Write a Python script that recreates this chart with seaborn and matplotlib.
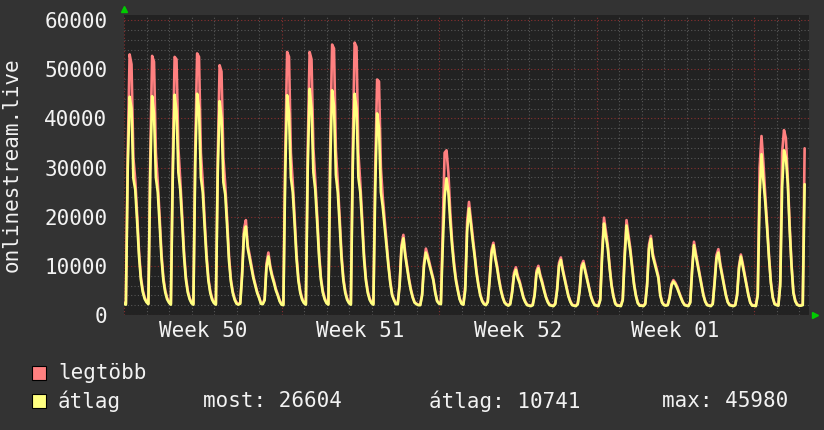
import pandas as pd
import matplotlib
matplotlib.use("Agg")
import matplotlib.pyplot as plt
import seaborn as sns
from matplotlib.patches import Rectangle
from matplotlib.transforms import blended_transform_factory

# 2-hour samples (0h, 2h, ... 22h) per day, in thousands.
# day 0 = Monday of week 50, last day is partial.
avg_k = [
    [2.3, 2.1, 30.0, 44.4, 42.0, 27.8, 25.5, 19.0, 12.0, 7.2, 4.7, 3.3],
    [2.6, 2.2, 29.0, 44.5, 41.0, 28.0, 25.0, 18.5, 11.5, 7.0, 4.6, 3.2],
    [2.5, 2.1, 28.0, 44.8, 41.5, 29.0, 25.5, 19.0, 12.0, 7.2, 4.6, 3.2],
    [2.4, 2.1, 31.0, 45.0, 42.0, 28.0, 25.0, 18.0, 11.5, 7.0, 4.5, 3.1],
    [2.4, 2.1, 29.0, 43.5, 40.0, 27.0, 24.5, 18.0, 11.0, 6.8, 4.5, 3.1],
    [2.3, 2.1, 2.3, 8.0, 16.5, 18.0, 13.5, 11.5, 9.5, 7.5, 6.0, 4.5],
    [3.5, 2.3, 2.2, 3.0, 9.8, 11.9, 9.5, 7.8, 6.5, 5.0, 4.0, 2.8],
    [2.1, 2.0, 29.0, 44.7, 41.0, 28.0, 25.0, 18.5, 11.5, 7.0, 4.5, 3.1],
    [2.4, 2.1, 30.0, 46.0, 42.0, 29.0, 25.5, 19.0, 12.0, 7.2, 4.6, 3.2],
    [2.4, 2.1, 31.0, 45.7, 42.5, 28.5, 25.0, 18.5, 11.5, 7.0, 4.5, 3.1],
    [2.4, 2.1, 30.0, 45.0, 42.0, 28.0, 25.0, 18.5, 11.5, 7.0, 4.5, 3.1],
    [2.4, 2.1, 26.0, 41.0, 38.0, 25.0, 22.0, 18.0, 14.0, 10.0, 6.5, 4.0],
    [3.0, 2.2, 2.2, 6.0, 13.5, 15.6, 12.0, 9.5, 7.0, 5.0, 3.5, 2.5],
    [2.2, 2.0, 2.0, 4.0, 10.0, 12.7, 11.5, 10.0, 8.5, 7.0, 4.5, 2.8],
    [2.3, 2.2, 14.0, 24.0, 27.8, 25.0, 19.0, 14.0, 10.0, 7.0, 5.0, 3.2],
    [2.3, 2.1, 5.0, 17.0, 21.7, 18.5, 15.0, 12.0, 8.5, 6.0, 4.0, 2.8],
    [2.2, 2.0, 2.6, 7.0, 12.5, 14.2, 11.5, 9.5, 7.0, 5.0, 3.5, 2.5],
    [2.1, 1.9, 2.2, 4.5, 8.0, 9.2, 7.5, 6.5, 5.0, 3.5, 2.6, 2.0],
    [1.9, 1.8, 2.0, 4.0, 8.5, 9.5, 7.8, 6.5, 5.0, 3.6, 2.6, 2.0],
    [1.9, 1.8, 2.2, 5.0, 10.0, 11.2, 9.0, 7.2, 5.5, 3.8, 2.7, 2.0],
    [1.9, 1.8, 2.2, 4.8, 9.5, 10.5, 8.8, 7.0, 5.4, 3.8, 2.7, 2.0],
    [1.9, 1.8, 3.0, 12.0, 18.6, 16.0, 13.6, 9.5, 6.0, 3.8, 2.3, 1.9],
    [1.9, 1.8, 3.0, 11.5, 18.2, 15.5, 13.0, 9.5, 6.2, 3.9, 2.4, 1.9],
    [1.9, 1.8, 2.2, 6.0, 13.5, 15.5, 12.0, 10.5, 9.0, 7.5, 4.0, 2.5],
    [2.0, 1.9, 2.0, 3.5, 6.0, 6.8, 6.3, 5.5, 4.5, 3.5, 2.6, 2.0],
    [1.9, 1.8, 2.5, 9.0, 14.2, 12.0, 10.0, 8.0, 6.0, 4.0, 2.7, 2.0],
    [1.9, 1.8, 2.2, 6.5, 11.5, 12.7, 10.0, 8.0, 6.0, 4.0, 2.6, 2.0],
    [1.9, 1.8, 2.0, 4.0, 9.5, 11.9, 10.0, 8.0, 6.0, 4.0, 2.5, 1.9],
    [1.9, 1.8, 4.0, 24.0, 32.7, 27.4, 23.0, 17.5, 11.5, 6.5, 3.5, 2.2],
    [2.0, 1.9, 6.0, 26.0, 33.5, 32.0, 26.8, 17.5, 10.0, 4.5, 2.8, 2.1],
    [1.9, 1.9, 2.0, 26.604],
]
max_k = [
    [2.5, 2.3, 33.0, 53.0, 51.0, 32.0, 27.5, 20.5, 13.0, 7.8, 5.1, 3.6],
    [2.8, 2.4, 32.0, 52.7, 51.5, 33.0, 27.0, 20.0, 12.5, 7.6, 5.0, 3.5],
    [2.7, 2.3, 31.0, 52.5, 52.0, 34.0, 27.5, 20.5, 13.0, 7.8, 5.0, 3.5],
    [2.6, 2.3, 34.0, 53.2, 52.5, 33.0, 27.0, 19.5, 12.5, 7.5, 4.9, 3.4],
    [2.6, 2.3, 32.0, 50.8, 49.5, 32.0, 26.5, 19.5, 12.0, 7.3, 4.8, 3.4],
    [2.5, 2.3, 2.5, 8.8, 17.5, 19.3, 14.2, 12.2, 10.0, 7.9, 6.3, 4.8],
    [3.7, 2.5, 2.3, 3.3, 10.5, 12.7, 10.0, 8.2, 6.9, 5.3, 4.2, 3.0],
    [2.3, 2.2, 33.0, 53.5, 52.5, 33.0, 27.0, 20.0, 12.5, 7.5, 4.9, 3.4],
    [2.6, 2.3, 34.0, 53.5, 52.0, 34.0, 27.5, 20.5, 13.0, 7.7, 5.0, 3.5],
    [2.6, 2.3, 35.0, 55.0, 54.2, 33.5, 27.0, 20.0, 12.5, 7.5, 4.9, 3.4],
    [2.6, 2.3, 34.0, 55.4, 54.5, 33.0, 27.0, 20.0, 12.5, 7.5, 4.9, 3.4],
    [2.6, 2.3, 30.0, 47.9, 47.5, 30.0, 24.0, 19.5, 15.0, 10.6, 6.9, 4.2],
    [3.2, 2.3, 2.3, 6.4, 14.2, 16.3, 12.6, 10.0, 7.4, 5.3, 3.7, 2.6],
    [2.3, 2.1, 2.1, 4.3, 10.6, 13.5, 12.1, 10.5, 8.9, 7.3, 4.7, 2.9],
    [2.5, 2.4, 18.0, 33.0, 33.5, 29.0, 21.0, 15.0, 10.8, 7.5, 5.3, 3.4],
    [2.4, 2.2, 6.0, 19.0, 23.0, 19.5, 15.8, 12.6, 9.0, 6.3, 4.2, 3.0],
    [2.3, 2.1, 2.8, 7.5, 13.2, 14.7, 12.0, 10.0, 7.4, 5.3, 3.7, 2.6],
    [2.2, 2.0, 2.4, 4.9, 8.6, 9.7, 8.0, 6.9, 5.3, 3.7, 2.8, 2.1],
    [2.0, 1.9, 2.2, 4.3, 9.0, 10.0, 8.2, 6.9, 5.3, 3.8, 2.8, 2.1],
    [2.0, 1.9, 2.4, 5.4, 10.6, 11.7, 9.4, 7.6, 5.8, 4.0, 2.9, 2.1],
    [2.0, 1.9, 2.4, 5.2, 10.1, 11.0, 9.2, 7.4, 5.7, 4.0, 2.9, 2.1],
    [2.0, 1.9, 3.3, 13.0, 19.8, 17.0, 14.3, 10.0, 6.3, 4.0, 2.5, 2.0],
    [2.0, 1.9, 3.3, 12.4, 19.3, 16.4, 13.7, 10.0, 6.5, 4.1, 2.6, 2.0],
    [2.0, 1.9, 2.4, 6.5, 14.3, 16.1, 12.6, 11.0, 9.5, 7.9, 4.2, 2.6],
    [2.1, 2.0, 2.1, 3.7, 6.3, 7.1, 6.6, 5.8, 4.7, 3.7, 2.7, 2.1],
    [2.0, 1.9, 2.7, 9.6, 14.9, 12.6, 10.5, 8.4, 6.3, 4.2, 2.8, 2.1],
    [2.0, 1.9, 2.4, 7.0, 12.2, 13.4, 10.5, 8.4, 6.3, 4.2, 2.7, 2.1],
    [2.0, 1.9, 2.1, 4.3, 10.0, 12.3, 10.5, 8.4, 6.3, 4.2, 2.6, 2.0],
    [2.0, 1.9, 4.5, 30.0, 36.4, 31.0, 24.5, 18.5, 12.0, 6.8, 3.7, 2.3],
    [2.2, 2.0, 7.0, 33.0, 37.6, 36.0, 28.0, 18.5, 10.5, 4.8, 3.0, 2.2],
    [2.0, 2.0, 2.2, 33.9],
]
week_labels = ["Week 50", "Week 51", "Week 52", "Week 01"]
y_ticks = [0, 10000, 20000, 30000, 40000, 50000, 60000]
stat_most = 26604
stat_avg = 10741
stat_max = 45980

rows = []
for day, (a_vals, m_vals) in enumerate(zip(avg_k, max_k)):
    for i, (a, m) in enumerate(zip(a_vals, m_vals)):
        hour = day * 24 + 2 * i
        rows.append((hour, "legtöbb", m * 1000))
        rows.append((hour, "átlag", a * 1000))
df = pd.DataFrame(rows, columns=["hour", "series", "value"])

sns.set_theme(style="dark")
plt.rcParams["font.family"] = ["DejaVu Sans Mono"]

W, H = 824, 430
bg = "#333333"
fg = "#f2f2f2"
fig = plt.figure(figsize=(W / 100, H / 100), dpi=100, facecolor=bg)
left, right, top, bottom = 124, 809, 15, 315
ax = fig.add_axes([left / W, 1 - bottom / H, (right - left) / W, (bottom - top) / H])
ax.set_facecolor("#222222")

sns.lineplot(data=df, x="hour", y="value", hue="series",
             hue_order=["legtöbb", "átlag"],
             palette={"legtöbb": "#ff8080", "átlag": "#ffff80"},
             estimator=None, linewidth=1.9, legend=False, ax=ax)

hours_span = (right - left) / 22.5 * 24
ax.set_xlim(0, hours_span)
ax.set_ylim(0, 60000 * 300 / 295)

# grid like rrdtool: days / weeks, 2000 / 10000
ax.set_xticks(range(0, int(hours_span) + 1, 168))
ax.set_xticks(range(0, int(hours_span) + 1, 24), minor=True)
ax.set_yticks(y_ticks)
ax.set_yticks(range(0, 61000, 2000), minor=True)
ax.grid(which="minor", color="#575757", linestyle=(0, (1, 2)), linewidth=0.8)
ax.grid(which="major", color="#8a3030", linestyle=(0, (1, 2)), linewidth=0.8)
ax.set_axisbelow(True)
ax.set_xticklabels([])
ax.set_yticklabels([str(v) for v in y_ticks], color=fg, fontsize=15)
ax.tick_params(axis="both", which="both", length=0)
ax.tick_params(axis="y", pad=12)
ax.set_xlabel("")
ax.set_ylabel("")
for s in ax.spines.values():
    s.set_visible(False)

trans = blended_transform_factory(ax.transData, ax.transAxes)
for i, lab in enumerate(week_labels):
    ax.text(84 + 168 * i, -16 / 300, lab, transform=trans, ha="center", va="center",
            color=fg, fontsize=15)

# little green arrows at the axis ends
ax.plot([0], [1 + 6 / 300], marker="^", color="#00cc00", markersize=5,
        transform=ax.transAxes, clip_on=False)
ax.plot([1 + 6 / 685], [0], marker=">", color="#00cc00", markersize=5,
        transform=ax.transAxes, clip_on=False)

fig.text(12 / W, 1 - 165 / H, "onlinestream.live", rotation=90, ha="center", va="center",
         color=fg, fontsize=15)

# legend
for yc, col in [(373, "#ff8080"), (401, "#ffff80")]:
    fig.add_artist(Rectangle((32 / W, 1 - (yc + 7) / H), 14 / W, 14 / H,
                             transform=fig.transFigure, facecolor=col,
                             edgecolor="black", linewidth=0.8))
fig.text(58 / W, 1 - 373 / H, "legtöbb", va="center", color=fg, fontsize=15)
fig.text(58 / W, 1 - 401 / H, "átlag", va="center", color=fg, fontsize=15)
fig.text(203 / W, 1 - 401 / H, f"most: {stat_most}", va="center", color=fg, fontsize=15)
fig.text(429 / W, 1 - 401 / H, f"átlag: {stat_avg}", va="center", color=fg, fontsize=15)
fig.text(662 / W, 1 - 401 / H, f"max: {stat_max}", va="center", color=fg, fontsize=15)

fig.savefig("out.png", dpi=100, facecolor=bg)
